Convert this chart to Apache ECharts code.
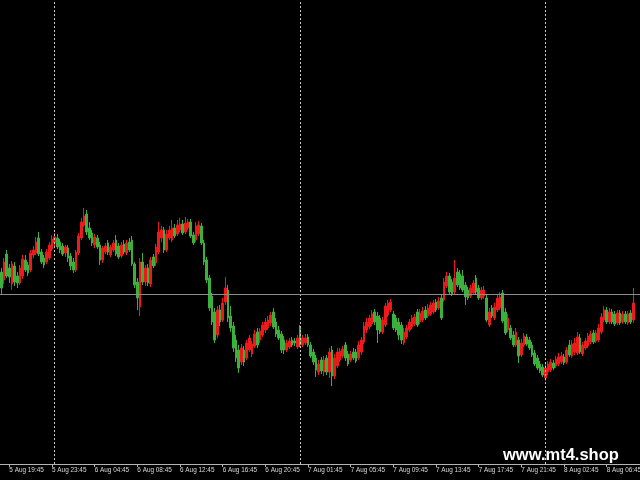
<!DOCTYPE html>
<html>
<head>
<meta charset="utf-8">
<script src="https://cdn.jsdelivr.net/npm/echarts@6/dist/echarts.min.js"></script>
<style>html,body{margin:0;padding:0;background:#000;}#c{width:640px;height:480px;}</style>
</head>
<body>
<div id="c"></div>
<script>
// 15-minute bars, daily break 00:00-01:00 (from 5 Aug 19:00)
const startDay = 5, startHour = 19, slotCount = 240;
const tickLabels = ['5 Aug 19:45','5 Aug 23:45','6 Aug 04:45','6 Aug 08:45','6 Aug 12:45','6 Aug 16:45','6 Aug 20:45','7 Aug 01:45','7 Aug 05:45','7 Aug 09:45','7 Aug 13:45','7 Aug 17:45','7 Aug 21:45','8 Aug 02:45','8 Aug 06:45'];
const daySeparators = ['6 Aug 01:00','7 Aug 01:00','8 Aug 01:00'];
const priceLine = 1.2706;

const opens = [
1.2728,1.2720,1.2746,1.2732,1.2716,1.2734,1.2724,1.2717,1.2724,1.2740,
1.2735,1.2730,1.2745,1.2747,1.2762,1.2748,1.2742,1.2738,1.2742,1.2751,
1.2757,1.2762,1.2758,1.2754,1.2747,1.2752,1.2744,1.2738,1.2730,1.2747,
1.2762,1.2775,1.2786,1.2772,1.2767,1.2755,1.2762,1.2755,1.2740,1.2748,
1.2757,1.2745,1.2750,1.2760,1.2754,1.2744,1.2756,1.2747,1.2758,1.2760,
1.2736,1.2718,1.2693,1.2738,1.2718,1.2732,1.2716,1.2743,1.2737,1.2748,
1.2762,1.2770,1.2750,1.2762,1.2760,1.2772,1.2766,1.2770,1.2776,1.2768,
1.2772,1.2778,1.2765,1.2760,1.2766,1.2774,1.2757,1.2740,1.2722,1.2704,
1.2688,1.2665,1.2690,1.2680,1.2698,1.2710,1.2684,1.2674,1.2660,1.2650,
1.2638,1.2650,1.2642,1.2650,1.2646,1.2654,1.2668,1.2660,1.2665,1.2670,
1.2672,1.2677,1.2688,1.2678,1.2670,1.2666,1.2660,1.2650,1.2653,1.2660,
1.2659,1.2653,1.2672,1.2655,1.2657,1.2663,1.2655,1.2648,1.2642,1.2628,
1.2640,1.2628,1.2642,1.2628,1.2650,1.2624,1.2634,1.2640,1.2644,1.2655,
1.2646,1.2640,1.2648,1.2648,1.2642,1.2648,1.2658,1.2670,1.2673,1.2676,
1.2688,1.2684,1.2682,1.2668,1.2675,1.2685,1.2690,1.2686,1.2682,1.2678,
1.2675,1.2657,1.2663,1.2670,1.2673,1.2676,1.2688,1.2678,1.2680,1.2690,
1.2684,1.2686,1.2688,1.2698,1.2692,1.2702,1.2700,1.2714,1.2724,1.2718,
1.2708,1.2728,1.2726,1.2724,1.2715,1.2710,1.2704,1.2707,1.2722,1.2712,
1.2702,1.2704,1.2702,1.2675,1.2692,1.2682,1.2690,1.2692,1.2707,1.2688,
1.2670,1.2672,1.2665,1.2655,1.2660,1.2645,1.2655,1.2663,1.2660,1.2655,
1.2647,1.2642,1.2636,1.2633,1.2622,1.2628,1.2630,1.2637,1.2634,1.2636,
1.2638,1.2643,1.2638,1.2655,1.2644,1.2648,1.2647,1.2662,1.2646,1.2652,
1.2654,1.2658,1.2667,1.2659,1.2660,1.2668,1.2680,1.2690,1.2678,1.2688,
1.2686,1.2677,1.2687,1.2678,1.2686,1.2677,1.2687,1.2680];

const closes = [
1.2712,1.2738,1.2724,1.2723,1.2736,1.2718,1.2717,1.2732,1.2741,1.2730,
1.2727,1.2747,1.2750,1.2758,1.2746,1.2738,1.2735,1.2748,1.2755,1.2761,
1.2763,1.2753,1.2750,1.2746,1.2753,1.2742,1.2734,1.2730,1.2748,1.2764,
1.2778,1.2784,1.2768,1.2762,1.2757,1.2763,1.2753,1.2740,1.2752,1.2754,
1.2748,1.2753,1.2757,1.2746,1.2743,1.2755,1.2748,1.2757,1.2750,1.2736,
1.2715,1.2702,1.2738,1.2718,1.2732,1.2717,1.2740,1.2734,1.2753,1.2768,
1.2770,1.2750,1.2766,1.2770,1.2772,1.2764,1.2775,1.2776,1.2767,1.2777,
1.2778,1.2764,1.2757,1.2774,1.2775,1.2757,1.2738,1.2720,1.2692,1.2678,
1.2660,1.2690,1.2678,1.2697,1.2712,1.2682,1.2672,1.2652,1.2642,1.2632,
1.2652,1.2638,1.2657,1.2662,1.2656,1.2666,1.2655,1.2669,1.2675,1.2678,
1.2680,1.2685,1.2673,1.2666,1.2662,1.2650,1.2650,1.2657,1.2659,1.2655,
1.2657,1.2662,1.2655,1.2662,1.2662,1.2655,1.2644,1.2638,1.2630,1.2636,
1.2629,1.2640,1.2628,1.2648,1.2624,1.2642,1.2648,1.2649,1.2651,1.2642,
1.2636,1.2646,1.2642,1.2639,1.2655,1.2660,1.2674,1.2678,1.2682,1.2686,
1.2678,1.2670,1.2668,1.2680,1.2694,1.2697,1.2698,1.2672,1.2670,1.2665,
1.2660,1.2668,1.2672,1.2678,1.2682,1.2683,1.2675,1.2687,1.2689,1.2682,
1.2692,1.2695,1.2697,1.2690,1.2699,1.2682,1.2718,1.2724,1.2708,1.2706,
1.2722,1.2715,1.2712,1.2710,1.2703,1.2702,1.2712,1.2717,1.2708,1.2702,
1.2710,1.2710,1.2680,1.2688,1.2684,1.2693,1.2702,1.2703,1.2679,1.2667,
1.2682,1.2662,1.2655,1.2668,1.2644,1.2657,1.2664,1.2656,1.2652,1.2645,
1.2636,1.2632,1.2629,1.2625,1.2632,1.2636,1.2638,1.2632,1.2641,1.2643,
1.2644,1.2637,1.2650,1.2645,1.2656,1.2657,1.2663,1.2648,1.2655,1.2659,
1.2664,1.2666,1.2658,1.2667,1.2672,1.2683,1.2690,1.2678,1.2688,1.2678,
1.2676,1.2687,1.2677,1.2686,1.2678,1.2686,1.2678,1.2697];

const lows = [
1.2705,1.2716,1.2722,1.2717,1.2710,1.2714,1.2712,1.2715,1.2721,1.2728,
1.2724,1.2728,1.2742,1.2745,1.2744,1.2736,1.2732,1.2736,1.2740,1.2749,
1.2754,1.2751,1.2747,1.2744,1.2743,1.2738,1.2730,1.2727,1.2728,1.2745,
1.2760,1.2773,1.2765,1.2760,1.2754,1.2752,1.2751,1.2735,1.2737,1.2746,
1.2745,1.2743,1.2748,1.2744,1.2741,1.2742,1.2746,1.2745,1.2748,1.2734,
1.2712,1.2690,1.2684,1.2715,1.2714,1.2714,1.2713,1.2732,1.2734,1.2746,
1.2758,1.2747,1.2748,1.2760,1.2758,1.2762,1.2764,1.2768,1.2765,1.2766,
1.2770,1.2762,1.2755,1.2758,1.2764,1.2755,1.2735,1.2717,1.2689,1.2675,
1.2657,1.2662,1.2674,1.2678,1.2695,1.2678,1.2668,1.2648,1.2638,1.2627,
1.2635,1.2634,1.2640,1.2648,1.2643,1.2652,1.2652,1.2657,1.2663,1.2667,
1.2670,1.2674,1.2671,1.2663,1.2660,1.2647,1.2646,1.2648,1.2651,1.2653,
1.2654,1.2651,1.2653,1.2653,1.2655,1.2653,1.2642,1.2635,1.2623,1.2625,
1.2626,1.2624,1.2625,1.2622,1.2614,1.2621,1.2632,1.2638,1.2642,1.2639,
1.2634,1.2638,1.2640,1.2637,1.2640,1.2645,1.2656,1.2667,1.2671,1.2674,
1.2675,1.2657,1.2666,1.2666,1.2673,1.2683,1.2688,1.2670,1.2668,1.2660,
1.2656,1.2655,1.2661,1.2668,1.2671,1.2674,1.2673,1.2676,1.2678,1.2680,
1.2682,1.2684,1.2686,1.2688,1.2690,1.2680,1.2698,1.2712,1.2705,1.2704,
1.2706,1.2713,1.2710,1.2708,1.2695,1.2700,1.2702,1.2705,1.2706,1.2700,
1.2700,1.2701,1.2678,1.2673,1.2682,1.2680,1.2688,1.2690,1.2677,1.2665,
1.2668,1.2660,1.2653,1.2653,1.2637,1.2643,1.2653,1.2654,1.2650,1.2643,
1.2634,1.2630,1.2627,1.2623,1.2619,1.2625,1.2628,1.2630,1.2632,1.2634,
1.2636,1.2635,1.2636,1.2643,1.2642,1.2645,1.2645,1.2646,1.2644,1.2650,
1.2652,1.2656,1.2656,1.2657,1.2658,1.2666,1.2678,1.2676,1.2676,1.2676,
1.2674,1.2675,1.2675,1.2676,1.2676,1.2675,1.2676,1.2677];

const highs = [
1.2732,1.2742,1.2750,1.2736,1.2739,1.2738,1.2728,1.2735,1.2745,1.2745,
1.2738,1.2750,1.2754,1.2763,1.2768,1.2751,1.2745,1.2751,1.2758,1.2765,
1.2767,1.2766,1.2761,1.2757,1.2755,1.2755,1.2747,1.2742,1.2750,1.2767,
1.2782,1.2792,1.2790,1.2778,1.2770,1.2766,1.2765,1.2758,1.2754,1.2757,
1.2760,1.2755,1.2760,1.2765,1.2757,1.2758,1.2760,1.2760,1.2762,1.2764,
1.2738,1.2722,1.2742,1.2747,1.2735,1.2736,1.2743,1.2746,1.2756,1.2778,
1.2774,1.2773,1.2770,1.2774,1.2780,1.2776,1.2780,1.2782,1.2780,1.2783,
1.2781,1.2781,1.2768,1.2778,1.2779,1.2777,1.2760,1.2743,1.2725,1.2707,
1.2692,1.2694,1.2695,1.2702,1.2723,1.2715,1.2694,1.2678,1.2665,1.2655,
1.2656,1.2654,1.2660,1.2665,1.2659,1.2670,1.2672,1.2672,1.2678,1.2682,
1.2684,1.2688,1.2692,1.2682,1.2674,1.2669,1.2664,1.2660,1.2662,1.2663,
1.2662,1.2665,1.2675,1.2665,1.2666,1.2666,1.2658,1.2651,1.2645,1.2640,
1.2643,1.2644,1.2645,1.2652,1.2654,1.2646,1.2652,1.2652,1.2654,1.2658,
1.2649,1.2649,1.2652,1.2651,1.2659,1.2663,1.2678,1.2682,1.2685,1.2690,
1.2691,1.2688,1.2685,1.2683,1.2697,1.2700,1.2701,1.2689,1.2685,1.2682,
1.2678,1.2672,1.2675,1.2681,1.2685,1.2686,1.2691,1.2691,1.2693,1.2694,
1.2696,1.2698,1.2700,1.2701,1.2703,1.2705,1.2722,1.2728,1.2727,1.2721,
1.2740,1.2732,1.2730,1.2730,1.2718,1.2713,1.2715,1.2720,1.2725,1.2715,
1.2713,1.2714,1.2705,1.2692,1.2695,1.2697,1.2706,1.2708,1.2710,1.2692,
1.2686,1.2675,1.2669,1.2672,1.2663,1.2661,1.2667,1.2666,1.2663,1.2658,
1.2650,1.2645,1.2639,1.2636,1.2636,1.2639,1.2641,1.2640,1.2644,1.2647,
1.2648,1.2646,1.2653,1.2660,1.2660,1.2662,1.2668,1.2666,1.2658,1.2662,
1.2667,1.2669,1.2670,1.2670,1.2676,1.2687,1.2694,1.2693,1.2692,1.2691,
1.2689,1.2690,1.2690,1.2689,1.2689,1.2689,1.2690,1.2712];

// build category labels (skip the 00:00-01:00 break)
const categories = [];
{
  let day = startDay, minutes = startHour * 60;
  for (let i = 0; i < slotCount; i++) {
    const h = String(Math.floor(minutes / 60)).padStart(2, '0');
    const m = String(minutes % 60).padStart(2, '0');
    categories.push(day + ' Aug ' + h + ':' + m);
    minutes += 15;
    if (minutes >= 1440) { day++; minutes = 60; }
  }
}
const candleData = opens.map((o, i) => [o, closes[i], lows[i], highs[i]]);

const chart = echarts.init(document.getElementById('c'), null, {renderer: 'canvas'});
const showTick = (idx, val) => tickLabels.indexOf(val) >= 0;
chart.setOption({
  backgroundColor: '#000000',
  animation: false,
  grid: {left: 0, right: 0, top: 0, bottom: 16, containLabel: false, outerBoundsMode: 'none'},
  xAxis: {
    type: 'category',
    data: categories,
    boundaryGap: true,
    axisLine: {show: true, lineStyle: {color: '#b4b4b4', width: 1}},
    axisTick: {show: true, interval: showTick, alignWithLabel: true, length: 3, lineStyle: {color: '#b4b4b4'}},
    axisLabel: {
      show: true, interval: showTick, align: 'left', margin: 3, hideOverlap: false,
      color: '#d8d8d8', fontSize: 6.4, fontFamily: 'Liberation Sans'
    },
    splitLine: {show: false}
  },
  yAxis: {
    type: 'value', min: 1.2536, max: 1.3000, scale: true,
    axisLine: {show: false}, axisTick: {show: false}, axisLabel: {show: false}, splitLine: {show: false}
  },
  series: [{
    type: 'candlestick',
    data: candleData,
    barWidth: 2.4,
    itemStyle: {
      color: '#ec1a1a', color0: '#3cb03c',
      borderColor: '#ec1a1a', borderColor0: '#3cb03c', borderWidth: 1
    },
    markLine: {
      silent: true, precision: 4, symbol: ['none', 'none'], label: {show: false},
      data: [
        ...daySeparators.map(d => ({xAxis: d, lineStyle: {color: '#c8c8c8', type: [2, 2], width: 1}})),
        {yAxis: priceLine, lineStyle: {color: '#8c8c8c', type: 'solid', width: 1}}
      ]
    }
  }],
  graphic: [{
    type: 'text', left: 503, top: 447, z: 100,
    style: {text: 'www.mt4.shop', fill: '#ffffff', font: 'bold 16.5px "Liberation Sans"'}
  }]
});
</script>
</body>
</html>
